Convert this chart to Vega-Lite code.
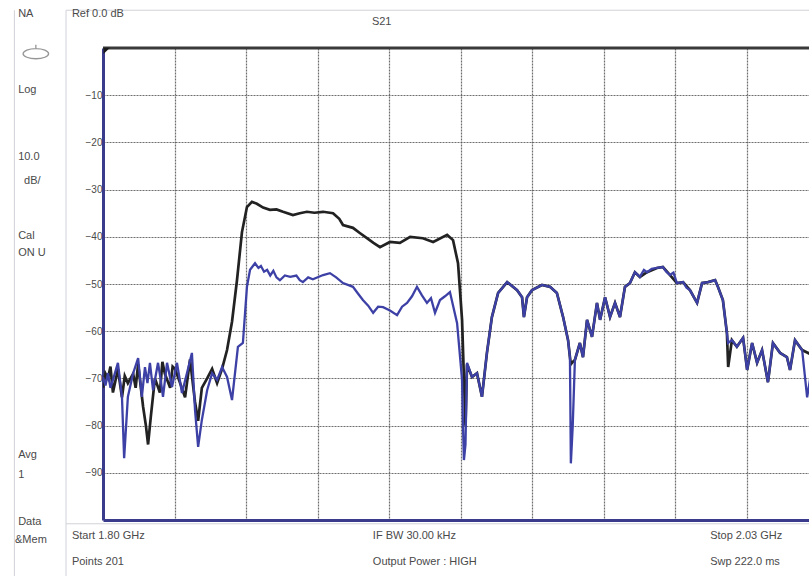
{
  "$schema": "https://vega.github.io/schema/vega-lite/v6.json",
  "width": 706,
  "height": 472,
  "autosize": {"type": "none"},
  "padding": {"left": 103, "top": 48, "right": 0, "bottom": 56},
  "background": "white",
  "config": {"view": {"stroke": null}, "font": "Liberation Sans"},
  "datasets": {
    "memory": [
      {"freq": 1800.0, "db": -72}, {"freq": 1800.8, "db": -69}, {"freq": 1801.6, "db": -70}, {"freq": 1802.4, "db": -67.5}, {"freq": 1803.2, "db": -73}, {"freq": 1804.0, "db": -70.5}, {"freq": 1804.8, "db": -68},
      {"freq": 1806.1, "db": -74}, {"freq": 1807.0, "db": -69.5}, {"freq": 1808.0, "db": -71}, {"freq": 1809.7, "db": -69}, {"freq": 1810.5, "db": -72}, {"freq": 1811.3, "db": -67},
      {"freq": 1812.9, "db": -76}, {"freq": 1813.8, "db": -80}, {"freq": 1814.5, "db": -84}, {"freq": 1815.4, "db": -78},
      {"freq": 1816.7, "db": -70}, {"freq": 1818.3, "db": -73}, {"freq": 1819.1, "db": -66.5}, {"freq": 1819.9, "db": -69}, {"freq": 1821.6, "db": -72},
      {"freq": 1822.4, "db": -67.5}, {"freq": 1823.2, "db": -68}, {"freq": 1824.8, "db": -71}, {"freq": 1826.4, "db": -74}, {"freq": 1828.0, "db": -66},
      {"freq": 1829.6, "db": -75}, {"freq": 1830.6, "db": -79}, {"freq": 1831.8, "db": -72}, {"freq": 1833.5, "db": -70},
      {"freq": 1835.1, "db": -68}, {"freq": 1836.7, "db": -71}, {"freq": 1838.3, "db": -68}, {"freq": 1839.9, "db": -64},
      {"freq": 1841.5, "db": -58}, {"freq": 1843.1, "db": -49.2}, {"freq": 1844.7, "db": -39}, {"freq": 1846.3, "db": -33.7},
      {"freq": 1847.9, "db": -32.6}, {"freq": 1849.5, "db": -33.0}, {"freq": 1851.5, "db": -33.8}, {"freq": 1853.7, "db": -34.3},
      {"freq": 1855.8, "db": -34.2}, {"freq": 1857.9, "db": -34.7}, {"freq": 1861.1, "db": -35.4}, {"freq": 1863.3, "db": -35.0},
      {"freq": 1865.6, "db": -34.7}, {"freq": 1868.0, "db": -34.9}, {"freq": 1870.8, "db": -34.7}, {"freq": 1874.0, "db": -35.0},
      {"freq": 1876.0, "db": -36.2}, {"freq": 1877.2, "db": -37.5}, {"freq": 1880.4, "db": -38.1}, {"freq": 1882.6, "db": -39.2},
      {"freq": 1884.9, "db": -40.3}, {"freq": 1887.0, "db": -41.3}, {"freq": 1889.1, "db": -42.2}, {"freq": 1892.3, "db": -41.1},
      {"freq": 1895.5, "db": -41.3}, {"freq": 1898.8, "db": -40.0}, {"freq": 1902.9, "db": -40.3}, {"freq": 1906.2, "db": -41.1},
      {"freq": 1910.7, "db": -39.6}, {"freq": 1912.6, "db": -40.7}, {"freq": 1914.2, "db": -45.6}, {"freq": 1915.5, "db": -57.6},
      {"freq": 1916.1, "db": -70}, {"freq": 1916.6, "db": -80}, {"freq": 1917.1, "db": -67}, {"freq": 1918.7, "db": -69.7},
      {"freq": 1920.3, "db": -68.9}, {"freq": 1921.9, "db": -73.9}, {"freq": 1923.5, "db": -64.6}, {"freq": 1925.1, "db": -57.0},
      {"freq": 1927.1, "db": -51.9}, {"freq": 1930.0, "db": -49.6}, {"freq": 1933.2, "db": -51.3}, {"freq": 1934.8, "db": -52.8},
      {"freq": 1935.4, "db": -57.0}, {"freq": 1936.4, "db": -52.8}, {"freq": 1938.0, "db": -51.3}, {"freq": 1941.2, "db": -50.2},
      {"freq": 1943.8, "db": -50.6}, {"freq": 1946.0, "db": -51.9}, {"freq": 1948.0, "db": -57.0}, {"freq": 1949.6, "db": -61.9},
      {"freq": 1950.2, "db": -65.5}, {"freq": 1950.5, "db": -67}, {"freq": 1951.1, "db": -66.5}, {"freq": 1951.8, "db": -66.1},
      {"freq": 1953.4, "db": -62.5}, {"freq": 1954.4, "db": -65.5}, {"freq": 1955.7, "db": -57.6}, {"freq": 1957.3, "db": -61.2},
      {"freq": 1958.9, "db": -54.0}, {"freq": 1959.9, "db": -57.6}, {"freq": 1961.5, "db": -52.8}, {"freq": 1963.1, "db": -57.0},
      {"freq": 1964.7, "db": -54.0}, {"freq": 1966.3, "db": -57.0}, {"freq": 1967.9, "db": -50.6}, {"freq": 1969.5, "db": -49.8},
      {"freq": 1971.1, "db": -47.5}, {"freq": 1972.7, "db": -48.5}, {"freq": 1975.0, "db": -47.5}, {"freq": 1978.2, "db": -46.6},
      {"freq": 1980.1, "db": -46.4}, {"freq": 1982.4, "db": -48.1}, {"freq": 1984.6, "db": -49.8}, {"freq": 1986.6, "db": -49.6},
      {"freq": 1988.8, "db": -51.3}, {"freq": 1991.1, "db": -54.0}, {"freq": 1992.7, "db": -49.8}, {"freq": 1994.6, "db": -49.6},
      {"freq": 1996.9, "db": -49.2}, {"freq": 1997.8, "db": -50.6}, {"freq": 1999.4, "db": -53.4}, {"freq": 2000.7, "db": -60.4},
      {"freq": 2001.1, "db": -67.6}, {"freq": 2002.3, "db": -61.9}, {"freq": 2003.9, "db": -63.3}, {"freq": 2005.9, "db": -61.4},
      {"freq": 2007.2, "db": -68.2}, {"freq": 2008.8, "db": -62.5}, {"freq": 2010.4, "db": -66.7}, {"freq": 2012.0, "db": -64.0},
      {"freq": 2013.9, "db": -70.8}, {"freq": 2015.5, "db": -62.5}, {"freq": 2017.8, "db": -64.6}, {"freq": 2020.0, "db": -65.5},
      {"freq": 2021.0, "db": -68.2}, {"freq": 2022.6, "db": -61.9}, {"freq": 2024.9, "db": -64.0}, {"freq": 2026.5, "db": -64.5},
      {"freq": 2028.0, "db": -65.0}, {"freq": 2030.0, "db": -64.0}
    ],
    "data": [
      {"freq": 1800.0, "db": -69.7}, {"freq": 1800.8, "db": -71.5}, {"freq": 1801.6, "db": -68.9}, {"freq": 1802.4, "db": -72.0}, {"freq": 1803.2, "db": -70.3}, {"freq": 1804.8, "db": -66.7},
      {"freq": 1806.1, "db": -73.9}, {"freq": 1806.8, "db": -86.9}, {"freq": 1808.0, "db": -73.9}, {"freq": 1809.7, "db": -68.9},
      {"freq": 1811.3, "db": -65.7}, {"freq": 1812.5, "db": -73.9}, {"freq": 1813.5, "db": -67.6}, {"freq": 1814.3, "db": -71.0}, {"freq": 1815.1, "db": -66.7},
      {"freq": 1816.1, "db": -72.5}, {"freq": 1817.7, "db": -66.7}, {"freq": 1818.5, "db": -70.0}, {"freq": 1819.3, "db": -73.9}, {"freq": 1820.6, "db": -66.7},
      {"freq": 1822.2, "db": -71.8}, {"freq": 1823.8, "db": -66.7}, {"freq": 1825.4, "db": -73.1}, {"freq": 1827.0, "db": -68.9},
      {"freq": 1828.6, "db": -64.6}, {"freq": 1829.6, "db": -76.7}, {"freq": 1830.6, "db": -84.5}, {"freq": 1831.8, "db": -78.8},
      {"freq": 1833.5, "db": -72.5}, {"freq": 1835.1, "db": -68.9}, {"freq": 1836.7, "db": -70.3}, {"freq": 1838.3, "db": -67.6},
      {"freq": 1839.9, "db": -69.7}, {"freq": 1841.5, "db": -74.6}, {"freq": 1843.4, "db": -63.3}, {"freq": 1845.0, "db": -62.5},
      {"freq": 1846.3, "db": -50.6}, {"freq": 1847.3, "db": -47.0}, {"freq": 1848.9, "db": -45.6}, {"freq": 1850.0, "db": -46.6}, {"freq": 1850.8, "db": -46.2}, {"freq": 1851.8, "db": -47.4},
      {"freq": 1852.8, "db": -47.0}, {"freq": 1853.8, "db": -48.2}, {"freq": 1854.8, "db": -47.2}, {"freq": 1855.8, "db": -48.6}, {"freq": 1856.9, "db": -49.2}, {"freq": 1858.5, "db": -48.2},
      {"freq": 1860.2, "db": -48.5}, {"freq": 1862.2, "db": -48.2}, {"freq": 1863.3, "db": -49.2}, {"freq": 1864.3, "db": -49.6}, {"freq": 1866.0, "db": -48.6}, {"freq": 1867.5, "db": -49.0},
      {"freq": 1870.8, "db": -48.1}, {"freq": 1873.0, "db": -47.7}, {"freq": 1875.0, "db": -48.6}, {"freq": 1877.2, "db": -49.8},
      {"freq": 1880.4, "db": -50.6}, {"freq": 1882.0, "db": -52.0}, {"freq": 1883.6, "db": -53.4}, {"freq": 1885.3, "db": -54.6},
      {"freq": 1886.9, "db": -56.1}, {"freq": 1888.5, "db": -54.8}, {"freq": 1890.1, "db": -54.9}, {"freq": 1892.3, "db": -55.6},
      {"freq": 1894.6, "db": -56.6}, {"freq": 1896.2, "db": -54.8}, {"freq": 1897.8, "db": -54.0}, {"freq": 1899.4, "db": -52.6},
      {"freq": 1901.0, "db": -50.6}, {"freq": 1902.6, "db": -52.4}, {"freq": 1904.2, "db": -54.0}, {"freq": 1905.5, "db": -53.0},
      {"freq": 1906.8, "db": -56.1}, {"freq": 1908.4, "db": -53.4}, {"freq": 1910.0, "db": -52.6}, {"freq": 1911.6, "db": -51.7},
      {"freq": 1913.9, "db": -58.3}, {"freq": 1915.5, "db": -70.3}, {"freq": 1915.8, "db": -80}, {"freq": 1916.1, "db": -87.3},
      {"freq": 1916.6, "db": -84}, {"freq": 1917.1, "db": -66.7}, {"freq": 1918.7, "db": -69.7}, {"freq": 1920.3, "db": -68.9},
      {"freq": 1921.9, "db": -73.9}, {"freq": 1923.5, "db": -64.6}, {"freq": 1925.1, "db": -57.0}, {"freq": 1927.1, "db": -51.9},
      {"freq": 1930.0, "db": -49.6}, {"freq": 1933.2, "db": -51.3}, {"freq": 1934.8, "db": -52.8}, {"freq": 1935.4, "db": -57.0},
      {"freq": 1936.4, "db": -52.8}, {"freq": 1938.0, "db": -51.3}, {"freq": 1941.2, "db": -50.2}, {"freq": 1943.8, "db": -50.6},
      {"freq": 1946.0, "db": -51.9}, {"freq": 1948.0, "db": -57.0}, {"freq": 1949.6, "db": -61.9}, {"freq": 1950.2, "db": -65.5},
      {"freq": 1950.5, "db": -88.0}, {"freq": 1951.1, "db": -80}, {"freq": 1951.8, "db": -66.1}, {"freq": 1953.4, "db": -62.5},
      {"freq": 1954.4, "db": -65.5}, {"freq": 1955.7, "db": -57.6}, {"freq": 1957.3, "db": -61.2}, {"freq": 1958.9, "db": -54.0},
      {"freq": 1959.9, "db": -57.6}, {"freq": 1961.5, "db": -52.8}, {"freq": 1963.1, "db": -57.0}, {"freq": 1964.7, "db": -54.0},
      {"freq": 1966.3, "db": -57.0}, {"freq": 1967.9, "db": -50.6}, {"freq": 1969.5, "db": -49.8}, {"freq": 1971.1, "db": -47.5},
      {"freq": 1972.7, "db": -48.5}, {"freq": 1974.0, "db": -47.0}, {"freq": 1975.0, "db": -47.5}, {"freq": 1976.5, "db": -46.8}, {"freq": 1978.2, "db": -46.6},
      {"freq": 1980.1, "db": -46.4}, {"freq": 1981.2, "db": -47.4}, {"freq": 1982.4, "db": -48.1}, {"freq": 1983.5, "db": -47.6}, {"freq": 1984.6, "db": -49.8}, {"freq": 1986.6, "db": -49.6},
      {"freq": 1987.7, "db": -50.8}, {"freq": 1988.8, "db": -51.3}, {"freq": 1991.1, "db": -54.0}, {"freq": 1992.7, "db": -49.8}, {"freq": 1994.6, "db": -49.6},
      {"freq": 1996.9, "db": -49.2}, {"freq": 1997.8, "db": -50.6}, {"freq": 1999.4, "db": -53.4}, {"freq": 2000.7, "db": -60.4},
      {"freq": 2001.1, "db": -62.5}, {"freq": 2002.3, "db": -61.9}, {"freq": 2003.9, "db": -63.3}, {"freq": 2005.9, "db": -61.4},
      {"freq": 2007.2, "db": -68.2}, {"freq": 2008.8, "db": -62.5}, {"freq": 2010.4, "db": -66.7}, {"freq": 2012.0, "db": -64.0},
      {"freq": 2013.9, "db": -70.8}, {"freq": 2015.5, "db": -62.5}, {"freq": 2017.8, "db": -64.6}, {"freq": 2020.0, "db": -65.5},
      {"freq": 2021.0, "db": -68.2}, {"freq": 2022.6, "db": -61.9}, {"freq": 2024.9, "db": -64.0}, {"freq": 2026.5, "db": -74.0},
      {"freq": 2028.0, "db": -68.0}, {"freq": 2030.0, "db": -66.0}
    ],
    "labels": [
      {"text": "NA", "freq": 1772.7, "db": 7.2},
      {"text": "Log", "freq": 1772.7, "db": -8.9},
      {"text": "10.0", "freq": 1772.7, "db": -23.1},
      {"text": "dB/", "freq": 1774.6, "db": -28.2},
      {"text": "Cal", "freq": 1772.7, "db": -39.8},
      {"text": "ON U", "freq": 1772.7, "db": -43.4},
      {"text": "Avg", "freq": 1772.7, "db": -86.2},
      {"text": "1", "freq": 1772.7, "db": -90.5},
      {"text": "Data", "freq": 1772.7, "db": -100.4},
      {"text": "&Mem", "freq": 1771.7, "db": -104.2},
      {"text": "Ref 0.0 dB", "freq": 1790.0, "db": 7.2},
      {"text": "S21", "freq": 1886.5, "db": 5.5},
      {"text": "Start 1.80 GHz", "freq": 1790.0, "db": -103.4},
      {"text": "Points 201", "freq": 1790.0, "db": -108.9},
      {"text": "IF BW 30.00 kHz", "freq": 1886.8, "db": -103.4},
      {"text": "Output Power : HIGH", "freq": 1886.8, "db": -108.9},
      {"text": "Stop 2.03 GHz", "freq": 1995.3, "db": -103.4},
      {"text": "Swp 222.0 ms", "freq": 1995.3, "db": -108.9}
    ],
    "rules": [
      {"kind": "sep", "freq": 1788.1, "freq2": 1788.1, "db": 8.0, "db2": -112},
      {"kind": "sep", "freq": 1771.5, "freq2": 1771.5, "db": 8.0, "db2": -112},
      {"kind": "sep", "freq": 1788.1, "freq2": 2030, "db": 8.0, "db2": 8.0},
      {"kind": "sep", "freq": 1788.1, "freq2": 2030, "db": -100.8, "db2": -100.8},
      {"kind": "top", "freq": 1800, "freq2": 2030, "db": 0, "db2": 0}
    ],
    "icons": [
      {"kind": "ellipse", "freq": 1778.4, "db": -1.2},
      {"kind": "ref", "freq": 1801.2, "db": -0.6}
    ]
  },
  "layer": [
    {
      "data": {"name": "memory"},
      "mark": {"type": "line", "clip": true, "color": "#222222", "strokeWidth": 2.7},
      "encoding": {
        "x": {
          "field": "freq", "type": "quantitative",
          "scale": {"domain": [1800, 2027.1], "nice": false, "zero": false},
          "axis": {
            "title": null, "values": [1823, 1846, 1869, 1892, 1915, 1938, 1961, 1984, 2007],
            "grid": true, "gridColor": "#555555", "gridDash": [2, 1], "gridWidth": 1.2, "gridOpacity": 0.85,
            "labels": false, "ticks": false, "domain": true, "domainColor": "#3b3b8c", "domainWidth": 3
          }
        },
        "y": {
          "field": "db", "type": "quantitative",
          "scale": {"domain": [-100, 0], "nice": false, "zero": false},
          "axis": {
            "title": null, "values": [-90, -80, -70, -60, -50, -40, -30, -20, -10],
            "grid": true, "gridColor": "#555555", "gridDash": [2, 1], "gridWidth": 1.2, "gridOpacity": 0.85,
            "ticks": false, "tickSize": 0, "labelPadding": 1, "labelFontSize": 10, "labelColor": "#4a4a4a",
            "labelFont": "Liberation Sans", "domain": true, "domainColor": "#3b3b8c", "domainWidth": 3
          }
        }
      }
    },
    {
      "data": {"name": "data"},
      "mark": {"type": "line", "clip": true, "color": "#3d41a6", "strokeWidth": 2.3},
      "encoding": {
        "x": {"field": "freq", "type": "quantitative"},
        "y": {"field": "db", "type": "quantitative"}
      }
    },
    {
      "data": {"name": "rules"},
      "transform": [{"filter": "datum.kind === 'sep'"}],
      "mark": {"type": "rule", "clip": false, "color": "#d0d2d8", "strokeWidth": 1},
      "encoding": {
        "x": {"field": "freq", "type": "quantitative"},
        "x2": {"field": "freq2"},
        "y": {"field": "db", "type": "quantitative"},
        "y2": {"field": "db2"}
      }
    },
    {
      "data": {"name": "rules"},
      "transform": [{"filter": "datum.kind === 'top'"}],
      "mark": {"type": "rule", "clip": false, "color": "#3a3a3a", "strokeWidth": 3},
      "encoding": {
        "x": {"field": "freq", "type": "quantitative"},
        "x2": {"field": "freq2"},
        "y": {"field": "db", "type": "quantitative"},
        "y2": {"field": "db2"}
      }
    },
    {
      "data": {"name": "icons"},
      "transform": [{"filter": "datum.kind === 'ellipse'"}],
      "mark": {"type": "point", "clip": false, "shape": "M-1,0A1,0.4,0,1,0,1,0A1,0.4,0,1,0,-1,0Z M0,-0.4L0,-0.7", "size": 650, "filled": false, "stroke": "#6a6a6a", "strokeWidth": 1.3},
      "encoding": {
        "x": {"field": "freq", "type": "quantitative"},
        "y": {"field": "db", "type": "quantitative"}
      }
    },
    {
      "data": {"name": "icons"},
      "transform": [{"filter": "datum.kind === 'ref'"}],
      "mark": {"type": "point", "clip": false, "shape": "M-1,-1L1,-1L-1,1Z", "size": 40, "filled": true, "color": "#1a1a1a", "opacity": 1},
      "encoding": {
        "x": {"field": "freq", "type": "quantitative"},
        "y": {"field": "db", "type": "quantitative"}
      }
    },
    {
      "data": {"name": "labels"},
      "mark": {"type": "text", "align": "left", "baseline": "middle", "font": "Liberation Sans", "fontSize": 11, "color": "#4a4a4a"},
      "encoding": {
        "x": {"field": "freq", "type": "quantitative"},
        "y": {"field": "db", "type": "quantitative"},
        "text": {"field": "text"}
      }
    }
  ]
}
